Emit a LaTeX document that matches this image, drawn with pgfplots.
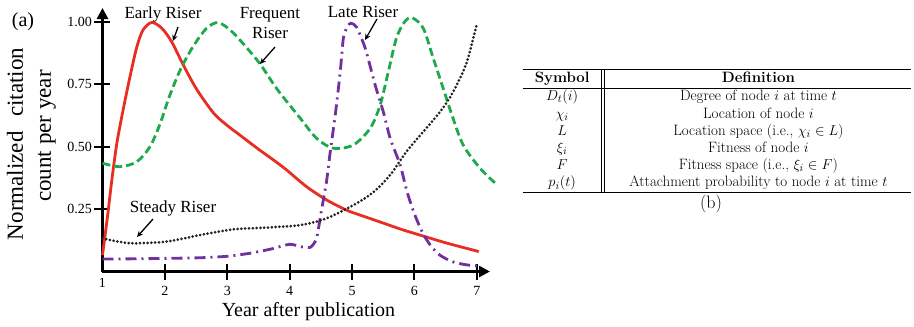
\documentclass[border=0pt]{standalone}
\usepackage{pgfplots}
\pgfplotsset{compat=1.18}
\usepackage{fontspec}
\usepackage{array}
\usetikzlibrary{arrows.meta}
\newfontfamily\tnr{Liberation Serif}
\definecolor{cred}{RGB}{232,45,35}
\definecolor{cgreen}{RGB}{30,170,75}
\definecolor{cpurple}{RGB}{112,48,160}
\definecolor{cdot}{RGB}{35,35,35}
\begin{document}
\begin{tikzpicture}
\useasboundingbox (-102.5pt,-55.5pt) rectangle (811.5pt,271.5pt);
\begin{axis}[
  at={(0pt,0pt)}, anchor=south west,
  scale only axis, width=387.5pt, height=263.5pt,
  xmin=1, xmax=7.21, ymin=0, ymax=1.056,
  axis lines=left,
  axis line style={line width=2.6pt, -{Triangle[length=11pt,width=11pt]}},
  tick align=center,
  major tick length=16pt,
  tick style={line width=2pt, black},
  xtick={2,3,4,5,6,7},
  xticklabels={2,3,4,5,6,7},
  extra x ticks={1},
  extra x tick labels={1},
  extra x tick style={major tick length=0pt},
  ytick={0.25,0.5,0.75,1},
  yticklabels={0.25,0.50,0.75,1.00},
  xticklabel style={font=\tnr\fontsize{14}{16}\selectfont, anchor=base, yshift=-16pt, inner sep=0pt},
  yticklabel style={font=\tnr\fontsize{14}{16}\selectfont, anchor=east, inner sep=0pt, xshift=-2.5pt},
  clip=false,
]
% Early Riser
\addplot[cred, line width=2.8pt, smooth, tension=0.5] coordinates {
(1,0.066) (1.08,0.22) (1.15,0.367) (1.23,0.514) (1.33,0.647) (1.44,0.78) (1.55,0.9) (1.65,0.968) (1.79,0.998) (1.95,0.975) (2.11,0.92) (2.29,0.83) (2.51,0.73) (2.78,0.635) (2.99,0.587) (3.2,0.547) (3.5,0.49) (3.75,0.445) (3.95,0.407) (4.27,0.34) (4.59,0.287) (4.91,0.246) (5.13,0.226) (5.5,0.194) (5.8,0.168) (6.14,0.142) (6.5,0.115) (6.8,0.095) (7.03,0.08)};
% Frequent Riser
\addplot[cgreen, line width=2.8pt, dash pattern=on 8pt off 4pt, smooth, tension=0.5] coordinates {
(1,0.434) (1.28,0.42) (1.55,0.44) (1.76,0.5) (1.92,0.59) (2.07,0.7) (2.25,0.81) (2.46,0.905) (2.67,0.975) (2.86,0.997) (3.1,0.955) (3.5,0.84) (3.8,0.73) (4.17,0.614) (4.43,0.534) (4.7,0.494) (5.02,0.507) (5.29,0.574) (5.45,0.667) (5.58,0.8) (5.71,0.935) (5.84,1.0) (5.96,1.017) (6.14,0.975) (6.3,0.855) (6.46,0.734) (6.6,0.627) (6.78,0.507) (7.05,0.414) (7.29,0.355)};
% Late Riser
\addplot[cpurple, line width=2.8pt, dash pattern=on 11pt off 5pt on 2pt off 5pt, smooth, tension=0.4] coordinates {
(1,0.05) (1.6,0.051) (2.1,0.053) (2.56,0.055) (3.0,0.061) (3.36,0.073) (3.7,0.09) (4.0,0.109) (4.17,0.1) (4.33,0.097) (4.43,0.133) (4.51,0.246) (4.59,0.36) (4.65,0.48) (4.73,0.627) (4.81,0.8) (4.86,0.935) (4.92,0.98) (4.98,0.995) (5.07,0.98) (5.21,0.895) (5.37,0.747) (5.5,0.64) (5.61,0.534) (5.77,0.427) (5.88,0.32) (6.0,0.23) (6.14,0.15) (6.27,0.1) (6.41,0.065) (6.6,0.04) (6.8,0.028) (7.0,0.022)};
% Steady Riser
\addplot[cdot, line width=3pt, line cap=round, dash pattern=on 0pt off 3.8pt, smooth, tension=0.5] coordinates {
(1,0.133) (1.25,0.12) (1.49,0.113) (2.03,0.12) (2.56,0.146) (3.1,0.169) (3.63,0.176) (4.17,0.186) (4.59,0.213) (5.07,0.273) (5.35,0.32) (5.61,0.387) (5.87,0.48) (6.14,0.56) (6.41,0.64) (6.62,0.72) (6.84,0.84) (7.0,0.995)};
\end{axis}
% labels
\node[font=\tnr\fontsize{20}{24}\selectfont] at (-79.5pt,249.5pt) {(a)};
\node[font=\tnr\fontsize{23}{27}\selectfont, rotate=90] at (-87.5pt,127.5pt) {Normalized\hspace{0.63em}citation};
\node[font=\tnr\fontsize{23}{27}\selectfont, rotate=90] at (-55.5pt,135.5pt) {count per year};
\node[font=\tnr\fontsize{20}{24}\selectfont, anchor=base] at (206pt,-45pt) {Year after publication};
\node[font=\tnr\fontsize{17}{20}\selectfont] at (60.5pt,257.5pt) {Early Riser};
\node[font=\tnr\fontsize{17}{19.5}\selectfont, align=center] at (167.5pt,248.5pt) {Frequent\\Riser};
\node[font=\tnr\fontsize{17}{20}\selectfont] at (260.5pt,259.5pt) {Late Riser};
\node[font=\tnr\fontsize{17}{20}\selectfont] at (70.5pt,63.5pt) {Steady Riser};
\begin{scope}[line width=1.3pt, -{Stealth[length=6pt,width=5.5pt]}]
\draw (75.5pt,244.5pt) -- (70.5pt,230.5pt);
\draw (172.5pt,224.5pt) -- (157.5pt,207.5pt);
\draw (274.5pt,252.5pt) -- (262.5pt,231.5pt);
\draw (50.5pt,52.5pt) -- (34.5pt,34.5pt);
\end{scope}
% table
\node[anchor=north west, inner sep=0pt] at (420.5pt,202.5pt) {%
\fontsize{15}{17.2}\selectfont
\setlength{\arrayrulewidth}{1.2pt}%
\setlength{\doublerulesep}{1.8pt}%
\setlength{\tabcolsep}{3pt}%
\begin{tabular}{>{\centering\arraybackslash}p{72pt}||>{\centering\arraybackslash}p{300pt}}
\hline
\textbf{Symbol} & \textbf{Definition}\\ \hline
$D_t(i)$ & Degree of node $i$ at time $t$\\
$\chi_i$ & Location of node $i$\\
$L$ & Location space (i.e., $\chi_i \in L$)\\
$\xi_i$ & Fitness of node $i$\\
$F$ & Fitness space (i.e., $\xi_i \in F$)\\
$p_i(t)$ & Attachment probability to node $i$ at time $t$\\ \hline
\end{tabular}};
\node[font=\fontsize{18}{22}\selectfont] at (608.5pt,67.5pt) {(b)};
\end{tikzpicture}
\end{document}
